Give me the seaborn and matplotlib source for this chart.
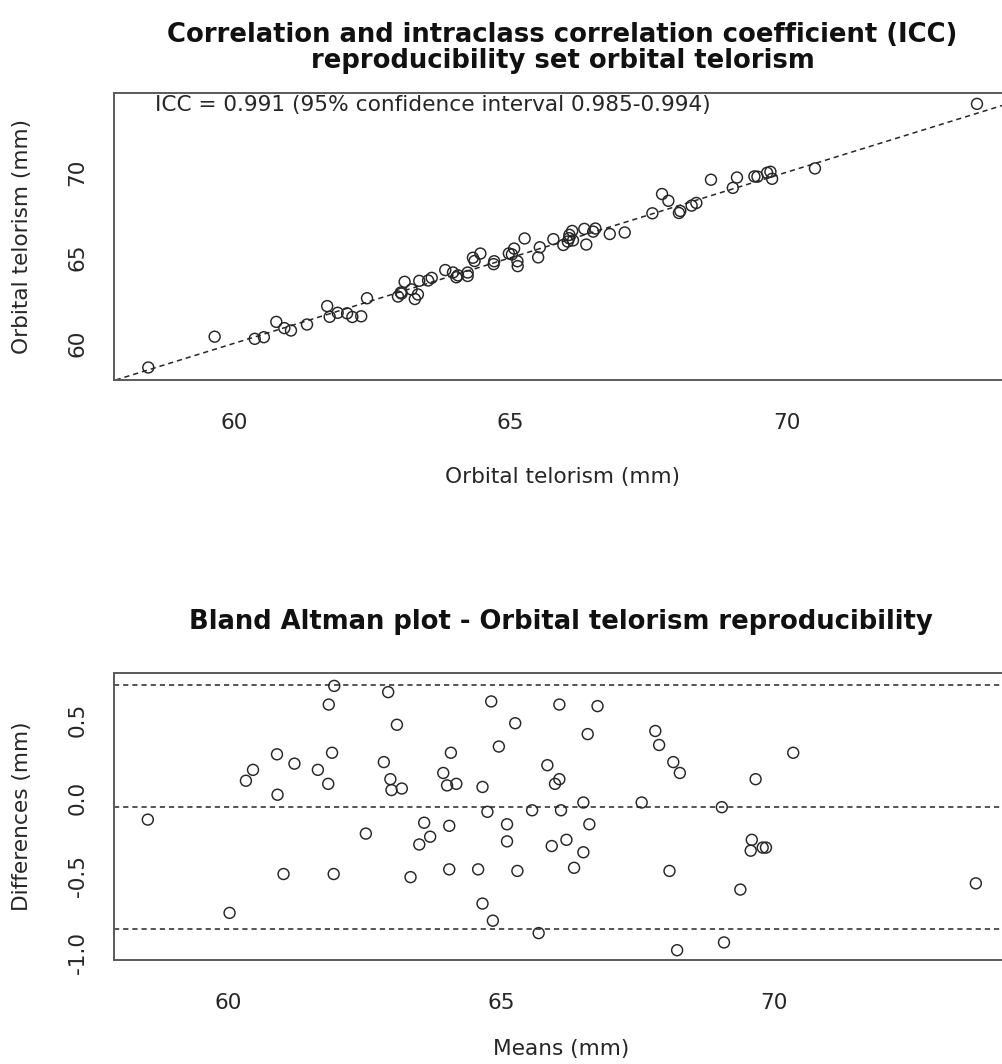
import numpy as np
import pandas as pd
import matplotlib
matplotlib.use("Agg")
import matplotlib.pyplot as plt
import seaborn as sns

# Bland-Altman means and differences (rater 1 - rater 2), in mm
means = [58.52, 60.02, 60.32, 60.45, 60.89, 60.90, 61.01, 61.21, 61.64, 61.84,
         61.90, 61.83, 61.94, 61.93, 62.52, 62.85, 62.93, 62.97, 62.99, 63.18,
         63.09, 63.34, 63.50, 63.59, 63.70, 63.94, 64.01, 64.08, 64.18, 64.05,
         64.05, 64.58, 64.66, 64.66, 64.85, 64.75, 64.82, 64.96, 65.26, 65.11,
         65.11, 65.30, 65.57, 65.69, 65.85, 65.93, 66.07, 66.77, 66.59, 66.07,
         65.99, 66.10, 66.20, 66.34, 66.51, 66.51, 66.62, 67.58, 67.83, 67.90,
         68.16, 68.28, 68.09, 68.23, 69.05, 69.09, 69.39, 69.60, 69.58, 69.80,
         69.86, 69.67, 70.36, 73.71]
diffs = [-0.14, -0.74, 0.11, 0.18, 0.28, 0.02, -0.49, 0.22, 0.18, 0.60,
         0.29, 0.09, 0.72, -0.49, -0.23, 0.23, 0.68, 0.12, 0.05, 0.06,
         0.47, -0.51, -0.30, -0.16, -0.25, 0.16, 0.08, 0.29, 0.09, -0.18,
         -0.46, -0.46, 0.07, -0.68, -0.79, -0.09, 0.62, 0.33, 0.48, -0.17,
         -0.28, -0.47, -0.08, -0.87, 0.21, -0.31, 0.60, 0.59, 0.41, 0.12,
         0.09, -0.08, -0.27, -0.45, -0.03, -0.35, -0.17, -0.03, 0.43, 0.34,
         0.23, 0.16, -0.47, -0.98, -0.06, -0.93, -0.59, -0.27, -0.34, -0.32,
         -0.32, 0.12, 0.29, -0.55]

x_ticks = [60, 65, 70]
y_ticks_top = [60, 65, 70]
y_ticks_bottom = [-1.0, -0.5, 0.0, 0.5]
y_ticklabels_bottom = ["-1.0", "-0.5", "0.0", "0.5"]

icc_text = "ICC = 0.991 (95% confidence interval 0.985-0.994)"
title_top = ("Correlation and intraclass correlation coefficient (ICC)\n"
             "reproducibility set orbital telorism")
title_bottom = "Bland Altman plot - Orbital telorism reproducibility"

df = pd.DataFrame({"mean": means, "diff": diffs})
df["rater1"] = df["mean"] + df["diff"] / 2
df["rater2"] = df["mean"] - df["diff"] / 2

bias = df["diff"].mean()
sd = df["diff"].std()
loa_low, loa_high = bias - 1.96 * sd, bias + 1.96 * sd

sns.set_style("white")
plt.rcParams["font.family"] = ["DejaVu Sans"]

W, H = 1002, 1064
fig = plt.figure(figsize=(W / 100, H / 100), dpi=100)

ink = "#262626"
frame = "#5a5a5a"
FS = 15.6
TFS = 18.6
dash = (0, (3.4, 2.6))


def px_axes(left, top, right, bottom):
    return fig.add_axes([left / W, 1 - bottom / H, (right - left) / W, (bottom - top) / H])


def style(ax, width_px, height_px, xlabel_offset):
    for s in ax.spines.values():
        s.set_visible(True)
        s.set_color(frame)
        s.set_linewidth(1.4)
    ax.tick_params(axis="both", direction="out", length=10, width=1.1,
                   color=frame, labelsize=FS, labelcolor=ink)
    ax.tick_params(axis="x", pad=14)
    ax.tick_params(axis="y", pad=9)
    for lab in ax.get_yticklabels():
        lab.set_rotation(90)
        lab.set_va("center")
    # axis titles centred at fixed pixel offsets from the frame
    ax.xaxis.label.set_va("center")
    ax.yaxis.label.set_va("center")
    ax.xaxis.set_label_coords(0.5, -xlabel_offset / height_px)
    ax.yaxis.set_label_coords(-92 / width_px, 0.5)


scatter_kw = dict(facecolors="none", edgecolor=ink, s=62, linewidth=1.05,
                  marker="o", legend=False)

# Top: rater agreement scatter with identity line
ax1 = px_axes(114, 93, 1011, 380)
ax1.axline((60, 60), slope=1, color=ink, lw=1.1, ls=dash)
sns.scatterplot(data=df, x="rater1", y="rater2", ax=ax1, **scatter_kw)
ax1.set_xlim(57.83, 74.05)
ax1.set_ylim(57.86, 74.62)
ax1.set_xticks(x_ticks)
ax1.set_yticks(y_ticks_top)
ax1.set_xlabel("Orbital telorism (mm)", fontsize=FS, color=ink)
ax1.set_ylabel("Orbital telorism (mm)", fontsize=FS, color=ink)
ax1.text(0.5, 1 + (93 - 48) / 287, title_top, transform=ax1.transAxes,
         fontsize=TFS, fontweight="bold", color="#111111", ha="center",
         va="center", linespacing=1.0)
ax1.text(0.046, 0.958, icc_text, transform=ax1.transAxes, fontsize=FS,
         color=ink, va="center", ha="left")
style(ax1, 897, 287, 97)

# Bottom: Bland-Altman plot with bias and limits of agreement
ax2 = px_axes(114, 673, 1008, 960)
for yv in (loa_high, bias, loa_low):
    ax2.axhline(yv, color=ink, lw=1.1, ls=dash)
sns.scatterplot(data=df, x="mean", y="diff", ax=ax2, **scatter_kw)
ax2.set_xlim(57.9, 74.3)
ax2.set_ylim(-1.043, 0.803)
ax2.set_xticks(x_ticks)
ax2.set_yticks(y_ticks_bottom)
ax2.set_yticklabels(y_ticklabels_bottom)
ax2.set_xlabel("Means (mm)", fontsize=FS, color=ink)
ax2.set_ylabel("Differences (mm)", fontsize=FS, color=ink)
ax2.text(0.5, 1 + (673 - 622) / 287, title_bottom, transform=ax2.transAxes,
         fontsize=TFS, fontweight="bold", color="#111111", ha="center",
         va="center")
style(ax2, 894, 287, 89)

fig.savefig("out.png", dpi=100, facecolor="white")
